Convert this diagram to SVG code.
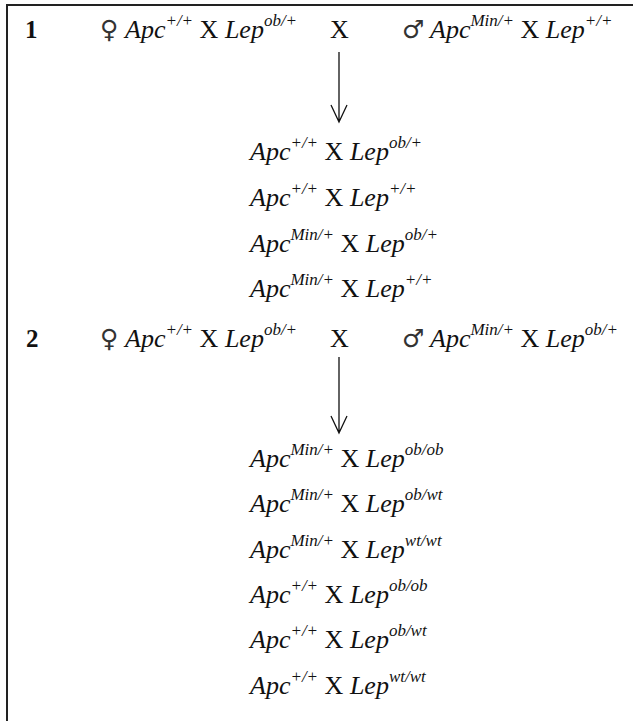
<svg xmlns="http://www.w3.org/2000/svg" width="633" height="721" viewBox="0 0 633 721">
<style>
.t{font-family:"Liberation Serif","Times New Roman",serif;font-size:26px;fill:#111;}
.i{font-style:italic;}
.s{font-size:17px;font-style:italic;}
.n{font-family:"Liberation Serif","Times New Roman",serif;font-size:25px;font-weight:bold;fill:#111;}
.g{font-family:"DejaVu Sans",sans-serif;font-size:25px;fill:#333;}
.frame{stroke:#222;stroke-width:2;fill:none;}
.arr{stroke:#111;stroke-width:1.3;fill:none;}
</style>
<g id="frame">
<line class="frame" x1="7" y1="5" x2="633" y2="5"/>
<line class="frame" x1="7" y1="4" x2="7" y2="721"/>
</g>
<g id="cross1">
<text class="n" x="25" y="38">1</text>
<text class="g" x="100" y="38">♀</text>
<text class="t" x="125" y="38" xml:space="preserve"><tspan class="i">Apc</tspan><tspan class="s" dy="-12">+/+</tspan><tspan dy="12"> X </tspan><tspan class="i">Lep</tspan><tspan class="s" dy="-12">ob/+</tspan></text>
<text class="t" x="330" y="38">X</text>
<text class="g" x="402" y="38">♂</text>
<text class="t" x="430" y="38" xml:space="preserve"><tspan class="i">Apc</tspan><tspan class="s" dy="-12">Min/+</tspan><tspan dy="12"> X </tspan><tspan class="i">Lep</tspan><tspan class="s" dy="-12">+/+</tspan></text>
</g>
<g id="offspring1">
<text class="t" x="250" y="160" xml:space="preserve"><tspan class="i">Apc</tspan><tspan class="s" dy="-12">+/+</tspan><tspan dy="12"> X </tspan><tspan class="i">Lep</tspan><tspan class="s" dy="-12">ob/+</tspan></text>
<text class="t" x="250" y="206" xml:space="preserve"><tspan class="i">Apc</tspan><tspan class="s" dy="-12">+/+</tspan><tspan dy="12"> X </tspan><tspan class="i">Lep</tspan><tspan class="s" dy="-12">+/+</tspan></text>
<text class="t" x="250" y="252" xml:space="preserve"><tspan class="i">Apc</tspan><tspan class="s" dy="-12">Min/+</tspan><tspan dy="12"> X </tspan><tspan class="i">Lep</tspan><tspan class="s" dy="-12">ob/+</tspan></text>
<text class="t" x="250" y="297" xml:space="preserve"><tspan class="i">Apc</tspan><tspan class="s" dy="-12">Min/+</tspan><tspan dy="12"> X </tspan><tspan class="i">Lep</tspan><tspan class="s" dy="-12">+/+</tspan></text>
</g>
<g id="cross2">
<text class="n" x="26" y="347">2</text>
<text class="g" x="100" y="347">♀</text>
<text class="t" x="125" y="347" xml:space="preserve"><tspan class="i">Apc</tspan><tspan class="s" dy="-12">+/+</tspan><tspan dy="12"> X </tspan><tspan class="i">Lep</tspan><tspan class="s" dy="-12">ob/+</tspan></text>
<text class="t" x="330" y="347">X</text>
<text class="g" x="402" y="347">♂</text>
<text class="t" x="430" y="347" xml:space="preserve"><tspan class="i">Apc</tspan><tspan class="s" dy="-12">Min/+</tspan><tspan dy="12"> X </tspan><tspan class="i">Lep</tspan><tspan class="s" dy="-12">ob/+</tspan></text>
</g>
<g id="offspring2">
<text class="t" x="250" y="467" xml:space="preserve"><tspan class="i">Apc</tspan><tspan class="s" dy="-12">Min/+</tspan><tspan dy="12"> X </tspan><tspan class="i">Lep</tspan><tspan class="s" dy="-12">ob/ob</tspan></text>
<text class="t" x="250" y="512" xml:space="preserve"><tspan class="i">Apc</tspan><tspan class="s" dy="-12">Min/+</tspan><tspan dy="12"> X </tspan><tspan class="i">Lep</tspan><tspan class="s" dy="-12">ob/wt</tspan></text>
<text class="t" x="250" y="558" xml:space="preserve"><tspan class="i">Apc</tspan><tspan class="s" dy="-12">Min/+</tspan><tspan dy="12"> X </tspan><tspan class="i">Lep</tspan><tspan class="s" dy="-12">wt/wt</tspan></text>
<text class="t" x="250" y="603" xml:space="preserve"><tspan class="i">Apc</tspan><tspan class="s" dy="-12">+/+</tspan><tspan dy="12"> X </tspan><tspan class="i">Lep</tspan><tspan class="s" dy="-12">ob/ob</tspan></text>
<text class="t" x="250" y="648" xml:space="preserve"><tspan class="i">Apc</tspan><tspan class="s" dy="-12">+/+</tspan><tspan dy="12"> X </tspan><tspan class="i">Lep</tspan><tspan class="s" dy="-12">ob/wt</tspan></text>
<text class="t" x="250" y="694" xml:space="preserve"><tspan class="i">Apc</tspan><tspan class="s" dy="-12">+/+</tspan><tspan dy="12"> X </tspan><tspan class="i">Lep</tspan><tspan class="s" dy="-12">wt/wt</tspan></text>
</g>
<g id="connectors">
<path class="arr" d="M339 52 V122 M331 105 L339 122 L347 105"/>
<path class="arr" d="M339 357 V433 M331 416 L339 433 L347 416"/>
</g>
</svg>
